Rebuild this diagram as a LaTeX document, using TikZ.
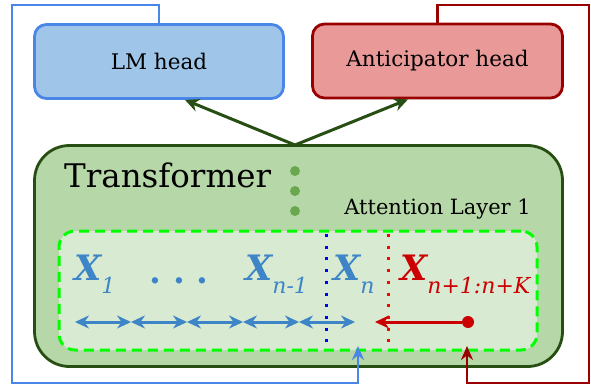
\documentclass[tikz,border=0pt]{standalone}
\usepackage{fontspec}
\setmainfont{DejaVu Serif}
\usetikzlibrary{arrows.meta,calc}
\definecolor{lmfill}{HTML}{9FC5E8}
\definecolor{lmdraw}{HTML}{4A86E8}
\definecolor{antfill}{HTML}{EA9999}
\definecolor{antdraw}{HTML}{990000}
\definecolor{tffill}{HTML}{B6D7A8}
\definecolor{tfdraw}{HTML}{274E13}
\definecolor{dotgreen}{HTML}{6AA84F}
\definecolor{innerfill}{HTML}{D9EAD3}
\definecolor{dashgreen}{HTML}{00FF00}
\definecolor{xblue}{HTML}{3D85C6}
\definecolor{xred}{HTML}{CC0000}
\newcommand{\xsubfont}{\fontsize{22}{26}\selectfont\mdseries\itshape}
\tikzset{
  headbox/.style={line width=2.8pt, rounded corners=12pt, minimum width=249pt, minimum height=74pt, inner sep=0pt, font=\fontsize{21.5}{26}\selectfont},
  greenarrow/.style={draw=tfdraw, line width=3pt, -{Stealth[length=14pt,width=13pt]}},
  fbline/.style={line width=2.4pt, -{Stealth[length=14pt,width=12pt]}},
  xlabel/.style={anchor=base west, inner sep=0pt, font=\fontsize{35}{40}\selectfont\bfseries\itshape},
  seqarrow/.style={draw=xblue, line width=3pt, {Stealth[length=14pt,width=13pt]}-{Stealth[length=14pt,width=13pt]}},
  vdots/.style={line width=3pt, dash pattern=on 3pt off 8.7pt},
}
\begin{document}
\begin{tikzpicture}[x=1pt,y=-1pt]
\useasboundingbox (0,0) rectangle (591,385);
% heads
\node[headbox, fill=lmfill, draw=lmdraw] (lm) at (159,61.5) {LM head};
\node[headbox, fill=antfill, draw=antdraw, minimum width=250pt] (ant) at (437.5,61) {Anticipator head};
% transformer
\node[draw=tfdraw, fill=tffill, line width=2.8pt, rounded corners=35pt, minimum width=528pt, minimum height=221pt, inner sep=0pt] (tf) at (298.5,256) {};
\node[anchor=base west, inner sep=0pt, font=\fontsize{32.5}{38}\selectfont] (tftext) at (64,187) {Transformer};
\node[anchor=base east, inner sep=0pt, font=\fontsize{21}{26}\selectfont] (attn) at (531,214) {Attention Layer 1};
\node[circle, fill=dotgreen, inner sep=0pt, minimum size=10pt] (d1) at (295,171) {};
\node[circle, fill=dotgreen, inner sep=0pt, minimum size=10pt] (d2) at (295,191) {};
\node[circle, fill=dotgreen, inner sep=0pt, minimum size=10pt] (d3) at (295,211) {};
% arrows to heads
\coordinate (top) at (295,145);
\draw[greenarrow] (top) -- ($(lm.south)+(26,0)$);
\draw[greenarrow] (top) -- ($(ant.south)+(-29.5,0)$);
% inner layer
\node[draw=dashgreen, fill=innerfill, line width=3pt, dash pattern=on 10pt off 6pt, rounded corners=16pt, minimum width=478pt, minimum height=119pt, inner sep=0pt] (inner) at (298,290.5) {};
\coordinate (bt) at (326,234);
\coordinate (bb) at (326,350);
\coordinate (rt) at (388,234);
\coordinate (rb) at (388,350);
\draw[vdots, blue] (bt) -- (bb);
\draw[vdots, red] (rt) -- (rb);
% token labels
\node[xlabel, text=xblue] (x1) at (74,280) {X\raisebox{-13pt}{\xsubfont 1}};
\node[anchor=base west, inner sep=0pt, text=xblue, font=\fontsize{34}{38}\selectfont\bfseries] (dots) at (149,283) {.\hspace{12pt}.\hspace{12pt}.};
\node[xlabel, text=xblue] (xn1) at (245,280) {X\raisebox{-13pt}{\xsubfont n-1}};
\node[xlabel, text=xblue] (xn) at (333,280) {X\raisebox{-13pt}{\xsubfont n}};
\node[xlabel, text=xred] (xk) at (400,280) {X\raisebox{-13pt}{\xsubfont n+1:n+K}};
% attention arrows
\coordinate (a0) at (75,322);
\coordinate (a1) at (131,322);
\coordinate (a2) at (187,322);
\coordinate (a3) at (243,322);
\coordinate (a4) at (299,322);
\coordinate (a5) at (355,322);
\draw[seqarrow] (a0) -- (a1);
\draw[seqarrow] (a1) -- (a2);
\draw[seqarrow] (a2) -- (a3);
\draw[seqarrow] (a3) -- (a4);
\draw[seqarrow] (a4) -- (a5);
\node[circle, fill=xred, inner sep=0pt, minimum size=12pt] (rdot) at (468,322) {};
\coordinate (rtip) at (375,322);
\draw[draw=xred, line width=3pt, -{Stealth[length=14pt,width=13pt]}] (rdot) -- (rtip);
% feedback loops
\coordinate (bl1) at (12,5);
\coordinate (bl2) at (358,383);
\coordinate (bl3) at (358,346);
\draw[fbline, lmdraw] (lm.north) |- (bl1) |- (bl2) -- (bl3);
\coordinate (rl1) at (589,5);
\coordinate (rl2) at (467,383);
\coordinate (rl3) at (467,346);
\draw[fbline, antdraw] (ant.north) |- (rl1) |- (rl2) -- (rl3);
\end{tikzpicture}
\end{document}
